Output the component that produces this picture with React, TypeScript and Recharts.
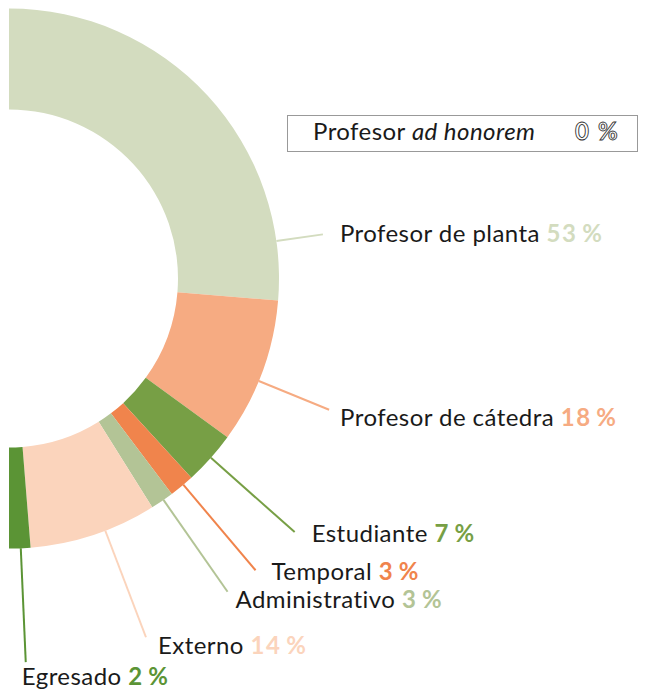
import React from 'react';
import { PieChart, Pie, Cell } from 'recharts';

const categories = ['Profesor de planta', 'Profesor de cátedra', 'Estudiante', 'Temporal', 'Administrativo', 'Externo', 'Egresado'];
const shares = [52.6, 17.4, 6.4, 3.0, 2.8, 15.25, 2.55];
const pctLabels = ['53\u2009%', '18\u2009%', '7\u2009%', '3\u2009%', '3\u2009%', '14\u2009%', '2\u2009%'];
const colors = ['#d3dcbf', '#f6ab82', '#779f45', '#f0844c', '#b3c496', '#fbd4bc', '#5b9435'];

const extraLabel = 'Profesor';
const extraLabelItalic = 'ad honorem';
const extraPct = '0\u2009%';

// label layout (angle in degrees, line extension, text offset)
const labelAngle = [8, -22.3, -41.6, -49.8, -55.1, -69.1, -87.5];
const labelExt = [47, 76, 112, 112, 112, 114, 114];
const labelDx = [17, 11, 17, 16, 8, 12, -4];
const labelDy = [8, 16, 10, 10, 16, 17, 23];

const data = categories.map((name, i) => ({ name, value: shares[i] }));

const CX = 9;
const CY = 278.5;
const RAD = Math.PI / 180;
const FONT = 'Lato, "Noto Sans", sans-serif';
const FS = 24;
const LS = 0.45;

const renderLabel = (props: any) => {
  const { index, outerRadius } = props;
  const a = labelAngle[index] * RAD;
  const r0 = outerRadius;
  const r1 = outerRadius + labelExt[index];
  const x0 = CX + r0 * Math.cos(a);
  const y0 = CY - r0 * Math.sin(a);
  const x1 = CX + r1 * Math.cos(a);
  const y1 = CY - r1 * Math.sin(a);
  return (
    <g key={`lbl-${index}`}>
      <line x1={x0} y1={y0} x2={x1} y2={y1} stroke={colors[index]} strokeWidth={2} />
      <text x={x1 + labelDx[index]} y={y1 + labelDy[index]} fontSize={FS} letterSpacing={LS} fontFamily={FONT} fill="#1a1a1a">
        <tspan>{categories[index]} </tspan>
        <tspan fontWeight={700} letterSpacing={1.6} fill={colors[index]}>{pctLabels[index]}</tspan>
      </text>
    </g>
  );
};

export default function App() {
  return (
    <div style={{ position: 'absolute', left: 0, top: 0, width: 645, height: 692, background: '#fff' }}>
      <PieChart width={645} height={692} margin={{ top: 0, right: 0, bottom: 0, left: 0 }}>
        <Pie
          data={data}
          dataKey="value"
          nameKey="name"
          cx={CX}
          cy={CY}
          startAngle={90}
          endAngle={-90}
          innerRadius={169}
          outerRadius={270}
          stroke="none"
          label={renderLabel}
          labelLine={false}
          isAnimationActive={false}
        >
          {data.map((d, i) => (
            <Cell key={d.name} fill={colors[i]} />
          ))}
        </Pie>
        <g>
          <rect x={287.5} y={115.5} width={350} height={36} fill="#fff" stroke="#999" strokeWidth={1} />
          <text x={313} y={140} fontSize={FS} letterSpacing={LS} fontFamily={FONT} fill="#1a1a1a">
            <tspan>{extraLabel} </tspan>
            <tspan fontStyle="italic">{extraLabelItalic}</tspan>
          </text>
          <text x={575} y={140} fontSize={FS} letterSpacing={3} fontFamily={FONT} fontWeight={700} fill="none" stroke="#333" strokeWidth={0.9}>
            {extraPct}
          </text>
        </g>
      </PieChart>
    </div>
  );
}
